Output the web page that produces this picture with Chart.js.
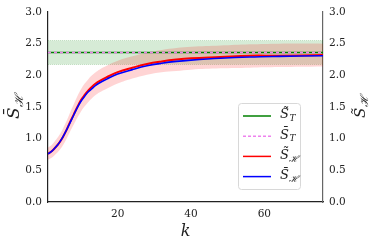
<!DOCTYPE html>
<html>
<head>
  <script src="https://cdn.jsdelivr.net/npm/chart.js"></script>
  <style>
    html, body { margin: 0; padding: 0; background: #fff; }
    #wrap { width: 374px; height: 247px; position: relative; }
  </style>
</head>
<body>
  <div id="wrap"><canvas id="chart" width="374" height="247"></canvas></div>
  <script>
    // sample positions along k
    const kVals = [1, 2, 3, 4, 5, 6, 7, 8, 9, 10, 11, 12, 13, 14, 15, 17, 20, 24, 28, 32, 36, 40, 48, 56, 64, 76];
    // S-bar_H (blue) and S-tilde_H (red)
    const sBarH   = [0.76, 0.80, 0.86, 0.93, 1.02, 1.13, 1.25, 1.37, 1.49, 1.59, 1.67, 1.74, 1.79, 1.84, 1.88, 1.94, 2.02, 2.09, 2.15, 2.19, 2.22, 2.24, 2.27, 2.29, 2.30, 2.31];
    const sTildeH = [0.76, 0.80, 0.86, 0.93, 1.02, 1.13, 1.26, 1.38, 1.50, 1.61, 1.69, 1.76, 1.82, 1.87, 1.91, 1.97, 2.05, 2.12, 2.18, 2.22, 2.25, 2.27, 2.29, 2.31, 2.31, 2.32];
    const hLower  = [0.67, 0.70, 0.75, 0.81, 0.89, 0.99, 1.11, 1.22, 1.33, 1.43, 1.51, 1.58, 1.64, 1.69, 1.73, 1.79, 1.87, 1.95, 2.01, 2.05, 2.07, 2.09, 2.11, 2.12, 2.13, 2.14];
    const hUpper  = [0.86, 0.90, 0.97, 1.05, 1.15, 1.27, 1.41, 1.54, 1.67, 1.78, 1.87, 1.94, 2.00, 2.05, 2.09, 2.15, 2.23, 2.30, 2.36, 2.40, 2.43, 2.45, 2.47, 2.49, 2.50, 2.50];
    // S_T reference values (flat)
    const kRange  = [1, 76];
    const sT      = [2.36, 2.36];
    const tLower  = [2.17, 2.17];
    const tUpper  = [2.55, 2.55];
    const yTicks  = [0, 0.5, 1, 1.5, 2, 2.5, 3];
    const xTicks  = [20, 40, 60];

    const pts = (xs, ys) => xs.map((x, i) => ({ x: x, y: ys[i] }));
    const serif = "'DejaVu Serif', serif";

    const legendItems = [
      { color: 'green', dash: [], sym: 'S\u0303', sub: 'T' },
      { color: '#ee82ee', dash: [3, 2], sym: 'S\u0304', sub: 'T' },
      { color: 'red', dash: [], sym: 'S\u0303', sub: '\u210B' },
      { color: 'blue', dash: [], sym: 'S\u0304', sub: '\u210B' }
    ];

    function drawSym(ctx, x, y, sym, sub, size) {
      ctx.font = 'italic ' + size + 'px ' + serif;
      ctx.fillText(sym, x, y);
      const w = ctx.measureText('S').width;
      ctx.font = 'italic ' + Math.round(size * 0.7) + 'px ' + serif;
      ctx.fillText(sub, x + w + 0.5, y + size * 0.3);
    }

    const extras = {
      id: 'extras',
      afterDraw(chart) {
        const ctx = chart.ctx;
        const a = chart.chartArea;
        ctx.save();
        ctx.fillStyle = '#222';
        ctx.textBaseline = 'middle';
        // left y title
        ctx.save();
        ctx.translate(15, (a.top + a.bottom) / 2);
        ctx.rotate(-Math.PI / 2);
        ctx.textAlign = 'left';
        drawSym(ctx, -12, 0, 'S\u0304', '\u210B', 17);
        ctx.restore();
        // right y title
        ctx.save();
        ctx.translate(361, (a.top + a.bottom) / 2);
        ctx.rotate(-Math.PI / 2);
        drawSym(ctx, -11, 0, 'S\u0303', '\u210B', 15);
        ctx.restore();
        // x title
        ctx.font = 'italic 16px ' + serif;
        ctx.textAlign = 'center';
        ctx.fillText('k', (a.left + a.right) / 2, 232);
        // legend box
        const bx = 238, by = 103, bw = 62, bh = 86;
        ctx.fillStyle = 'rgba(255,255,255,0.85)';
        ctx.strokeStyle = '#d8d8d8';
        ctx.lineWidth = 1;
        ctx.beginPath();
        ctx.roundRect(bx + 0.5, by + 0.5, bw, bh, 3);
        ctx.fill();
        ctx.stroke();
        legendItems.forEach((it, i) => {
          const y = 116 + i * 20.2;
          ctx.strokeStyle = it.color;
          ctx.lineWidth = 1.5;
          ctx.setLineDash(it.dash);
          ctx.beginPath();
          ctx.moveTo(243, y);
          ctx.lineTo(271, y);
          ctx.stroke();
          ctx.setLineDash([]);
          ctx.fillStyle = '#222';
          ctx.textAlign = 'left';
          drawSym(ctx, 280, y - 1, it.sym, it.sub, 13);
        });
        ctx.restore();
      }
    };

    const tickFont = { family: serif, size: 10.5 };

    // order: larger number is drawn underneath
    new Chart(document.getElementById('chart'), {
      type: 'line',
      data: {
        datasets: [
          { order: 9, data: pts(kRange, tLower), borderColor: 'rgba(0,128,0,0.25)', borderWidth: 0.7, borderDash: [1, 1], pointRadius: 0, fill: false },
          { order: 8, data: pts(kRange, tUpper), borderColor: 'rgba(0,128,0,0.25)', borderWidth: 0.7, borderDash: [1, 1], pointRadius: 0, fill: 0, backgroundColor: 'rgba(0,128,0,0.16)' },
          { order: 7, data: pts(kVals, hLower), borderWidth: 0, pointRadius: 0, fill: false, tension: 0.4 },
          { order: 6, data: pts(kVals, hUpper), borderWidth: 0, pointRadius: 0, fill: 2, backgroundColor: 'rgba(255,0,0,0.17)', tension: 0.4 },
          { order: 5, data: pts(kVals, sTildeH), borderColor: 'red', borderWidth: 2, pointRadius: 0, fill: false, tension: 0.4 },
          { order: 4, data: pts(kVals, sBarH), borderColor: 'blue', borderWidth: 1.6, pointRadius: 0, fill: false, tension: 0.4 },
          { order: 3, data: pts(kRange, sT), borderColor: 'green', borderWidth: 1.5, pointRadius: 0, fill: false },
          { order: 2, data: pts(kRange, sT), borderColor: '#ee82ee', borderWidth: 1.5, borderDash: [3, 3], pointRadius: 0, fill: false }
        ]
      },
      options: {
        responsive: false,
        animation: false,
        layout: { padding: { top: 12, left: 0, right: 0, bottom: 0 } },
        plugins: { legend: { display: false }, tooltip: { enabled: false } },
        scales: {
          x: {
            type: 'linear', min: 1, max: 76,
            afterBuildTicks: s => { s.ticks = xTicks.map(v => ({ value: v })); },
            afterFit: s => { s.height = 45; },
            grid: { display: false, drawTicks: true, tickLength: 4, tickColor: '#222' },
            border: { color: '#222', width: 1.2 },
            ticks: { color: '#222', font: tickFont, padding: 2 }
          },
          y: {
            min: 0, max: 3,
            afterBuildTicks: s => { s.ticks = yTicks.map(v => ({ value: v })); },
            afterFit: s => { s.width = 48; },
            grid: { display: false, drawTicks: true, tickLength: 4, tickColor: '#222' },
            border: { color: '#222', width: 1.2 },
            ticks: { color: '#222', font: tickFont, padding: 2, callback: v => v.toFixed(1) }
          },
          y2: {
            position: 'right', min: 0, max: 3,
            afterBuildTicks: s => { s.ticks = yTicks.map(v => ({ value: v })); },
            afterFit: s => { s.width = 51; },
            grid: { display: false, drawTicks: true, tickLength: 4, tickColor: '#555' },
            border: { color: '#666', width: 1.2 },
            ticks: { color: '#222', font: tickFont, padding: 2, callback: v => v.toFixed(1) }
          }
        }
      },
      plugins: [extras]
    });
  </script>
</body>
</html>
